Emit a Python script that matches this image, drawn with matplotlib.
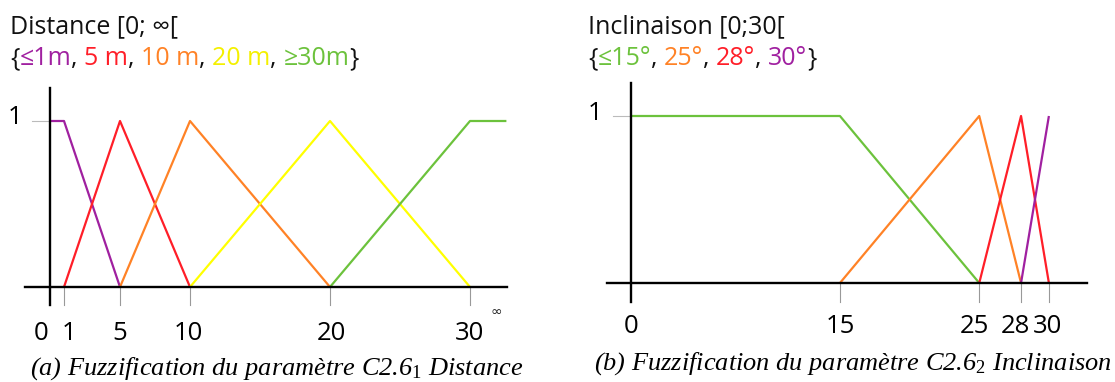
import matplotlib
matplotlib.use("Agg")
import matplotlib.pyplot as plt
from matplotlib.transforms import offset_copy

plt.rcParams["mathtext.fontset"] = "custom"
plt.rcParams["mathtext.rm"] = "Liberation Serif"
plt.rcParams["mathtext.it"] = "Liberation Serif:italic"

# ---------------- data ----------------
dist_labels = ["≤1m", "5 m", "10 m", "20 m", "≥30m"]
dist_colors = ["#a020a0", "#ff1e28", "#ff8226", "#ffff00", "#6cc23c"]
dist_x = [[0, 1, 5], [1, 5, 10], [5, 10, 20], [10, 20, 30], [20, 30, 32.6]]
dist_y = [[1, 1, 0], [0, 1, 0], [0, 1, 0], [0, 1, 0], [0, 1, 1]]
dist_ticks = [0, 1, 5, 10, 20, 30]
dist_ticklabels = ["0", "1", "5", "10", "20", "30"]

incl_labels = ["≤15°", "25°", "28°", "30°"]
incl_colors = ["#6cc23c", "#ff8226", "#ff1e28", "#a020a0"]
incl_x = [[0, 15, 25], [15, 25, 28], [25, 28, 30], [28, 30]]
incl_y = [[1, 1, 0], [0, 1, 0], [0, 1, 0], [0, 1]]
incl_ticks = [0, 15, 25, 28, 30]
incl_ticklabels = ["0", "15", "25", "28", "30"]

W, H = 1115, 382
fig = plt.figure(figsize=(W / 100, H / 100), dpi=100)
over = fig.add_axes([0, 0, 1, 1])
over.set_xlim(0, W)
over.set_ylim(H, 0)
over.axis("off")

def px_axes(x0, x1, ytop, ybot):
    return fig.add_axes([x0 / W, 1 - ybot / H, (x1 - x0) / W, (ybot - ytop) / H])

FONT = "Open Sans"
TICK_FS = 18.5

def draw_panel(ax, xs, ys, colors, ticks, ticklabels, xlim, ylim, label_dx, label_dy, one_x, one_dy):
    ax.set_xlim(*xlim)
    ax.set_ylim(*ylim)
    ax.axis("off")
    for x, y, c in zip(xs, ys, colors):
        ax.plot(x, y, color=c, lw=1.6, solid_capstyle="butt", zorder=3, clip_on=False)
    ax.plot(xlim, [0, 0], color="black", lw=1.7, zorder=4, clip_on=False)
    ax.plot([0, 0], ylim, color="black", lw=1.7, zorder=4, clip_on=False)
    for t in ticks:
        if t != 0:
            ax.plot([t, t], [ylim[0], 0], color="#999999", lw=0.8, zorder=2, clip_on=False)
    ax.plot([-1.3, 0], [1, 1], color="#bbbbbb", lw=0.8, zorder=2, clip_on=False)
    tr1 = offset_copy(ax.transData, fig=fig, x=0, y=one_dy, units="dots")
    ax.text(one_x, 1, "1", transform=tr1, fontsize=TICK_FS, family=FONT, ha="center", va="center")
    for t, lab, dx in zip(ticks, ticklabels, label_dx):
        tr = offset_copy(ax.transData, fig=fig, x=dx, y=-label_dy, units="dots")
        ax.text(t, ylim[0], lab, transform=tr, fontsize=TICK_FS, family=FONT,
                ha="center", va="top")

# left panel: x=0 at px 50, 14 px/unit; y=0 at 287, y=1 at 121
axL = px_axes(25, 507, 88, 305)
drawL_xlim = (-25 / 14, (507 - 50) / 14)
drawL_ylim = (-(305 - 287) / 166, (287 - 88) / 166)
draw_panel(axL, dist_x, dist_y, dist_colors, dist_ticks, dist_ticklabels,
           drawL_xlim, drawL_ylim, [-9, 5, 0, -2, 1, 0], 16, -2.5, 3)
axL.text(31.9, drawL_ylim[0], "∞", fontsize=10, family="DejaVu Sans",
         ha="center", va="top", color="#222222")

# right panel: x=0 at px 631, 13.93 px/unit; y=0 at 283, y=1 at 116
axR = px_axes(607, 1087, 83, 302)
drawR_xlim = (-24 / 13.93, (1087 - 631) / 13.93)
drawR_ylim = (-(302 - 283) / 167, (283 - 83) / 167)
draw_panel(axR, incl_x, incl_y, incl_colors, incl_ticks, incl_ticklabels,
           drawR_xlim, drawR_ylim, [0, 0, -5, -6, -1], 12, -2.6, 2)

# titles
TITLE_FS = 18

def colored_line(x, y, parts, size=TITLE_FS):
    t = None
    for s, c in parts:
        if t is None:
            t = over.text(x, y, s, color=c, fontsize=size, family=FONT,
                          va="baseline", ha="left")
        else:
            t = over.annotate(s, xycoords=(t, "data"), xy=(1, y), va="baseline", ha="left",
                              color=c, fontsize=size, family=FONT,
                              annotation_clip=False)
    return t

over.text(10, 33, "Distance [0; ∞[", fontsize=TITLE_FS, family=[FONT, "DejaVu Sans"],
          va="baseline", ha="left", color="#111111")
partsL = [("{", "#111111")]
for i, (lab, c) in enumerate(zip(dist_labels, dist_colors)):
    partsL.append((lab, c if c != "#ffff00" else "#f4f000"))
    partsL.append((", " if i < len(dist_labels) - 1 else "}", "#111111"))
colored_line(10, 65, partsL)

over.text(588, 33, "Inclinaison [0;30[", fontsize=TITLE_FS, family=FONT,
          va="baseline", ha="left", color="#111111")
partsR = [("{", "#111111")]
for i, (lab, c) in enumerate(zip(incl_labels, incl_colors)):
    partsR.append((lab, c))
    partsR.append((", " if i < len(incl_labels) - 1 else "}", "#111111"))
colored_line(588, 65, partsR)

# captions
over.text(30, 375, r"(a) Fuzzification du paramètre C2.6$_{\mathrm{1}}$ Distance",
          fontsize=19, family="Liberation Serif", style="italic", va="baseline", ha="left")
over.text(594, 370, r"(b) Fuzzification du paramètre C2.6$_{\mathrm{2}}$ Inclinaison",
          fontsize=19, family="Liberation Serif", style="italic", va="baseline", ha="left")

fig.savefig("out.png", dpi=100)
